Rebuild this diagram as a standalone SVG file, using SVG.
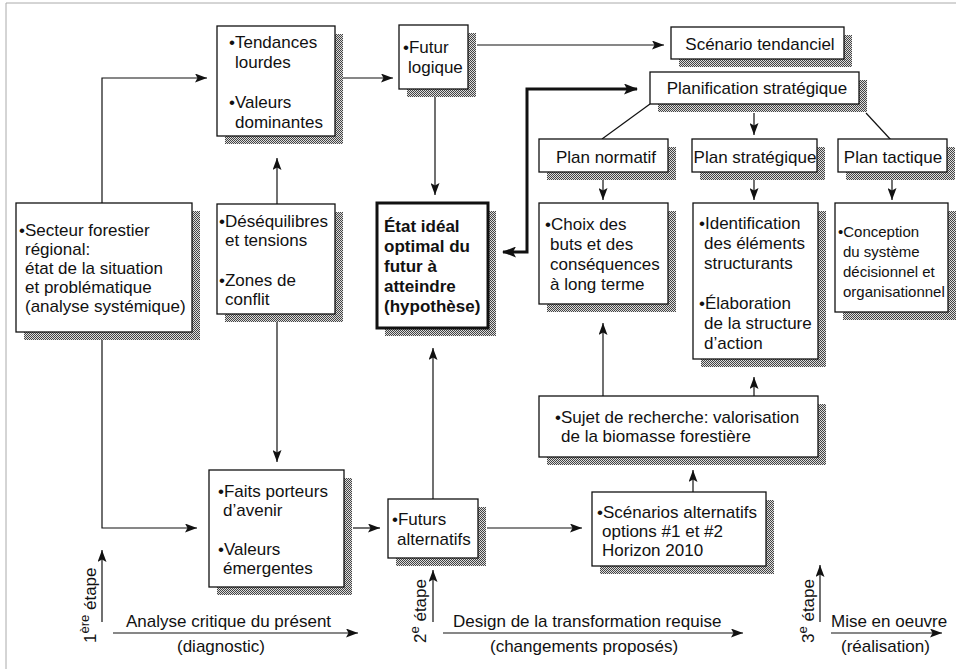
<svg xmlns="http://www.w3.org/2000/svg" width="956" height="669" viewBox="0 0 956 669">
<defs>
<pattern id="dots" width="2" height="2" patternUnits="userSpaceOnUse"><rect width="2" height="2" fill="#ddd"/><rect width="1" height="1" fill="#444"/><rect x="1" y="1" width="1" height="1" fill="#444"/></pattern>
<marker id="ah" viewBox="0 0 12 9" refX="12" refY="4.5" markerWidth="12" markerHeight="9" markerUnits="userSpaceOnUse" orient="auto"><path d="M0,0 L12,4.5 L0,9 L2.5,4.5 z" fill="#111"/></marker>
<marker id="ahb" viewBox="0 0 14 11" refX="13" refY="5.5" markerWidth="14" markerHeight="11" markerUnits="userSpaceOnUse" orient="auto-start-reverse"><path d="M0,0 L14,5.5 L0,11 L3,5.5 z" fill="#111"/></marker>
</defs>
<style>
.t{font-family:"Liberation Sans",Arial,Helvetica,sans-serif;font-size:17px;fill:#111}
.b{font-weight:bold}
.s15{font-size:15px}
.box{fill:#fff;stroke:#111;stroke-width:1.3}
.thick{stroke-width:3}
.sh{fill:url(#dots)}
.ln{fill:none;stroke:#111;stroke-width:1.2}
.lnb{fill:none;stroke:#111;stroke-width:3}
.fr{fill:none;stroke:#aaa;stroke-width:1}
.m{text-anchor:middle}
</style>
<rect width="956" height="669" fill="#fff"/>
<path class="fr" d="M6,669 V3 H956"/>

<g id="connectors">
<polyline class="ln" points="102,203 102,78 207,78" marker-end="url(#ah)"/>
<polyline class="ln" points="102,340 102,528 197,528" marker-end="url(#ah)"/>
<line class="ln" x1="277" y1="204" x2="277" y2="158" marker-end="url(#ah)"/>
<line class="ln" x1="277" y1="322" x2="277" y2="462" marker-end="url(#ah)"/>
<line class="ln" x1="343" y1="78" x2="393" y2="78" marker-end="url(#ah)"/>
<line class="ln" x1="477" y1="45" x2="664" y2="45" marker-end="url(#ah)"/>
<line class="ln" x1="435" y1="97" x2="435" y2="195" marker-end="url(#ah)"/>
<line class="ln" x1="433" y1="499" x2="433" y2="348" marker-end="url(#ah)"/>
<line class="ln" x1="353" y1="528" x2="380" y2="528" marker-end="url(#ah)"/>
<line class="ln" x1="487" y1="528" x2="582" y2="528" marker-end="url(#ah)"/>
<line class="ln" x1="693" y1="492" x2="693" y2="470" marker-end="url(#ah)"/>
<line class="ln" x1="603" y1="396" x2="603" y2="323" marker-end="url(#ah)"/>
<line class="ln" x1="754" y1="396" x2="754" y2="377" marker-end="url(#ah)"/>
<polyline class="lnb" points="503,252 527,252 527,89 637,89" marker-start="url(#ahb)" marker-end="url(#ahb)"/>
<line class="ln" x1="650" y1="104" x2="602" y2="139"/>
<line class="ln" x1="754" y1="113" x2="754" y2="135" marker-end="url(#ah)"/>
<line class="ln" x1="866" y1="113" x2="891" y2="140"/>
<line class="ln" x1="603" y1="180" x2="603" y2="200" marker-end="url(#ah)"/>
<line class="ln" x1="754" y1="180" x2="754" y2="200" marker-end="url(#ah)"/>
<line class="ln" x1="892" y1="180" x2="892" y2="200" marker-end="url(#ah)"/>
<line class="ln" x1="102" y1="622" x2="102" y2="550" marker-end="url(#ah)"/>
<line class="ln" x1="433" y1="622" x2="433" y2="570" marker-end="url(#ah)"/>
<line class="ln" x1="820" y1="622" x2="820" y2="565" marker-end="url(#ah)"/>
<line class="ln" x1="113" y1="633" x2="358" y2="633" marker-end="url(#ah)"/>
<line class="ln" x1="443" y1="633" x2="743" y2="633" marker-end="url(#ah)"/>
<line class="ln" x1="831" y1="633" x2="942" y2="633" marker-end="url(#ah)"/>
</g>

<g id="tendances">
<rect class="sh" x="225" y="34" width="118" height="110"/>
<rect class="box" x="217" y="26" width="118" height="110"/>
<text class="t" x="229" y="48">•Tendances</text>
<text class="t" x="235" y="68">lourdes</text>
<text class="t" x="229" y="108">•Valeurs</text>
<text class="t" x="235" y="128">dominantes</text>
</g>

<g id="futur-logique">
<rect class="sh" x="407" y="33" width="69" height="64"/>
<rect class="box" x="399" y="25" width="69" height="64"/>
<text class="t" x="403" y="53">•Futur</text>
<text class="t" x="408" y="73">logique</text>
</g>

<g id="scenario-tendanciel">
<rect class="sh" x="679" y="35" width="173" height="32"/>
<rect class="box" x="671" y="27" width="173" height="32"/>
<text class="t m" x="760" y="50">Scénario tendanciel</text>
</g>

<g id="planification">
<rect class="sh" x="658" y="80" width="209" height="32"/>
<rect class="box" x="650" y="72" width="209" height="32"/>
<text class="t m" x="757" y="94">Planification stratégique</text>
</g>

<g id="plan-normatif">
<rect class="sh" x="547" y="147" width="129" height="33"/>
<rect class="box" x="539" y="139" width="129" height="33"/>
<text class="t m" x="606" y="163">Plan normatif</text>
</g>

<g id="plan-strategique">
<rect class="sh" x="700" y="147" width="125" height="33"/>
<rect class="box" x="692" y="139" width="125" height="33"/>
<text class="t m" x="755" y="163">Plan stratégique</text>
</g>

<g id="plan-tactique">
<rect class="sh" x="846" y="147" width="109" height="33"/>
<rect class="box" x="838" y="139" width="109" height="33"/>
<text class="t m" x="893" y="163">Plan tactique</text>
</g>

<g id="secteur">
<rect class="sh" x="24" y="211" width="176" height="129"/>
<rect class="box" x="16" y="203" width="176" height="129"/>
<text class="t" x="19" y="236">•Secteur forestier</text>
<text class="t" x="25" y="255">régional:</text>
<text class="t" x="25" y="274">état de la situation</text>
<text class="t" x="25" y="293">et problématique</text>
<text class="t" x="25" y="312">(analyse systémique)</text>
</g>

<g id="desequilibres">
<rect class="sh" x="225" y="212" width="118" height="110"/>
<rect class="box" x="217" y="204" width="118" height="110"/>
<text class="t" x="219" y="227">•Déséquilibres</text>
<text class="t" x="225" y="246">et tensions</text>
<text class="t" x="219" y="286">•Zones de</text>
<text class="t" x="225" y="305">conflit</text>
</g>

<g id="etat-ideal">
<rect class="sh" x="385" y="211" width="111" height="125"/>
<rect class="box thick" x="377" y="203" width="111" height="125"/>
<text class="t b" x="384" y="232">État idéal</text>
<text class="t b" x="384" y="252">optimal du</text>
<text class="t b" x="384" y="272">futur à</text>
<text class="t b" x="384" y="292">atteindre</text>
<text class="t b" x="384" y="312">(hypothèse)</text>
</g>

<g id="choix">
<rect class="sh" x="547" y="211" width="129" height="101"/>
<rect class="box" x="539" y="203" width="129" height="101"/>
<text class="t" x="545" y="230">•Choix des</text>
<text class="t" x="550" y="250">buts et des</text>
<text class="t" x="550" y="270">conséquences</text>
<text class="t" x="550" y="290">à long terme</text>
</g>

<g id="identification">
<rect class="sh" x="701" y="211" width="125" height="156"/>
<rect class="box" x="693" y="203" width="125" height="156"/>
<text class="t" x="699" y="229">•Identification</text>
<text class="t" x="704" y="249">des éléments</text>
<text class="t" x="704" y="269">structurants</text>
<text class="t" x="699" y="309">•Élaboration</text>
<text class="t" x="704" y="329">de la structure</text>
<text class="t" x="704" y="349">d’action</text>
</g>

<g id="conception">
<rect class="sh" x="843" y="211" width="113" height="109"/>
<rect class="box" x="835" y="203" width="113" height="109"/>
<text class="t s15" x="838" y="237">•Conception</text>
<text class="t s15" x="843" y="257">du système</text>
<text class="t s15" x="843" y="277">décisionnel et</text>
<text class="t s15" x="843" y="297">organisationnel</text>
</g>

<g id="sujet">
<rect class="sh" x="547" y="404" width="279" height="61"/>
<rect class="box" x="539" y="396" width="279" height="61"/>
<text class="t" x="555" y="423">•Sujet de recherche: valorisation</text>
<text class="t" x="561" y="442">de la biomasse forestière</text>
</g>

<g id="scenarios-alternatifs">
<rect class="sh" x="600" y="500" width="174" height="74"/>
<rect class="box" x="592" y="492" width="174" height="74"/>
<text class="t" x="597" y="518">•Scénarios alternatifs</text>
<text class="t" x="602" y="537">options #1 et #2</text>
<text class="t" x="602" y="556">Horizon 2010</text>
</g>

<g id="futurs-alternatifs">
<rect class="sh" x="396" y="507" width="90" height="59"/>
<rect class="box" x="388" y="499" width="90" height="59"/>
<text class="t" x="392" y="525">•Futurs</text>
<text class="t" x="397" y="545">alternatifs</text>
</g>

<g id="faits">
<rect class="sh" x="217" y="478" width="135" height="117"/>
<rect class="box" x="209" y="470" width="135" height="117"/>
<text class="t" x="218" y="497">•Faits porteurs</text>
<text class="t" x="223" y="516">d’avenir</text>
<text class="t" x="218" y="555">•Valeurs</text>
<text class="t" x="223" y="574">émergentes</text>
</g>

<g id="etapes">
<text class="t" transform="translate(96,643) rotate(-90)">1<tspan font-size="13" dy="-7">ère</tspan><tspan dy="7"> étape</tspan></text>
<text class="t" transform="translate(426,643) rotate(-90)">2<tspan font-size="13" dy="-7">e</tspan><tspan dy="7"> étape</tspan></text>
<text class="t" transform="translate(814,643) rotate(-90)">3<tspan font-size="13" dy="-7">e</tspan><tspan dy="7"> étape</tspan></text>
<text class="t" x="126" y="627">Analyse critique du présent</text>
<text class="t" x="177" y="652">(diagnostic)</text>
<text class="t" x="453" y="627">Design de la transformation requise</text>
<text class="t" x="490" y="652">(changements proposés)</text>
<text class="t" x="831" y="627">Mise en oeuvre</text>
<text class="t" x="841" y="652">(réalisation)</text>
</g>
</svg>
